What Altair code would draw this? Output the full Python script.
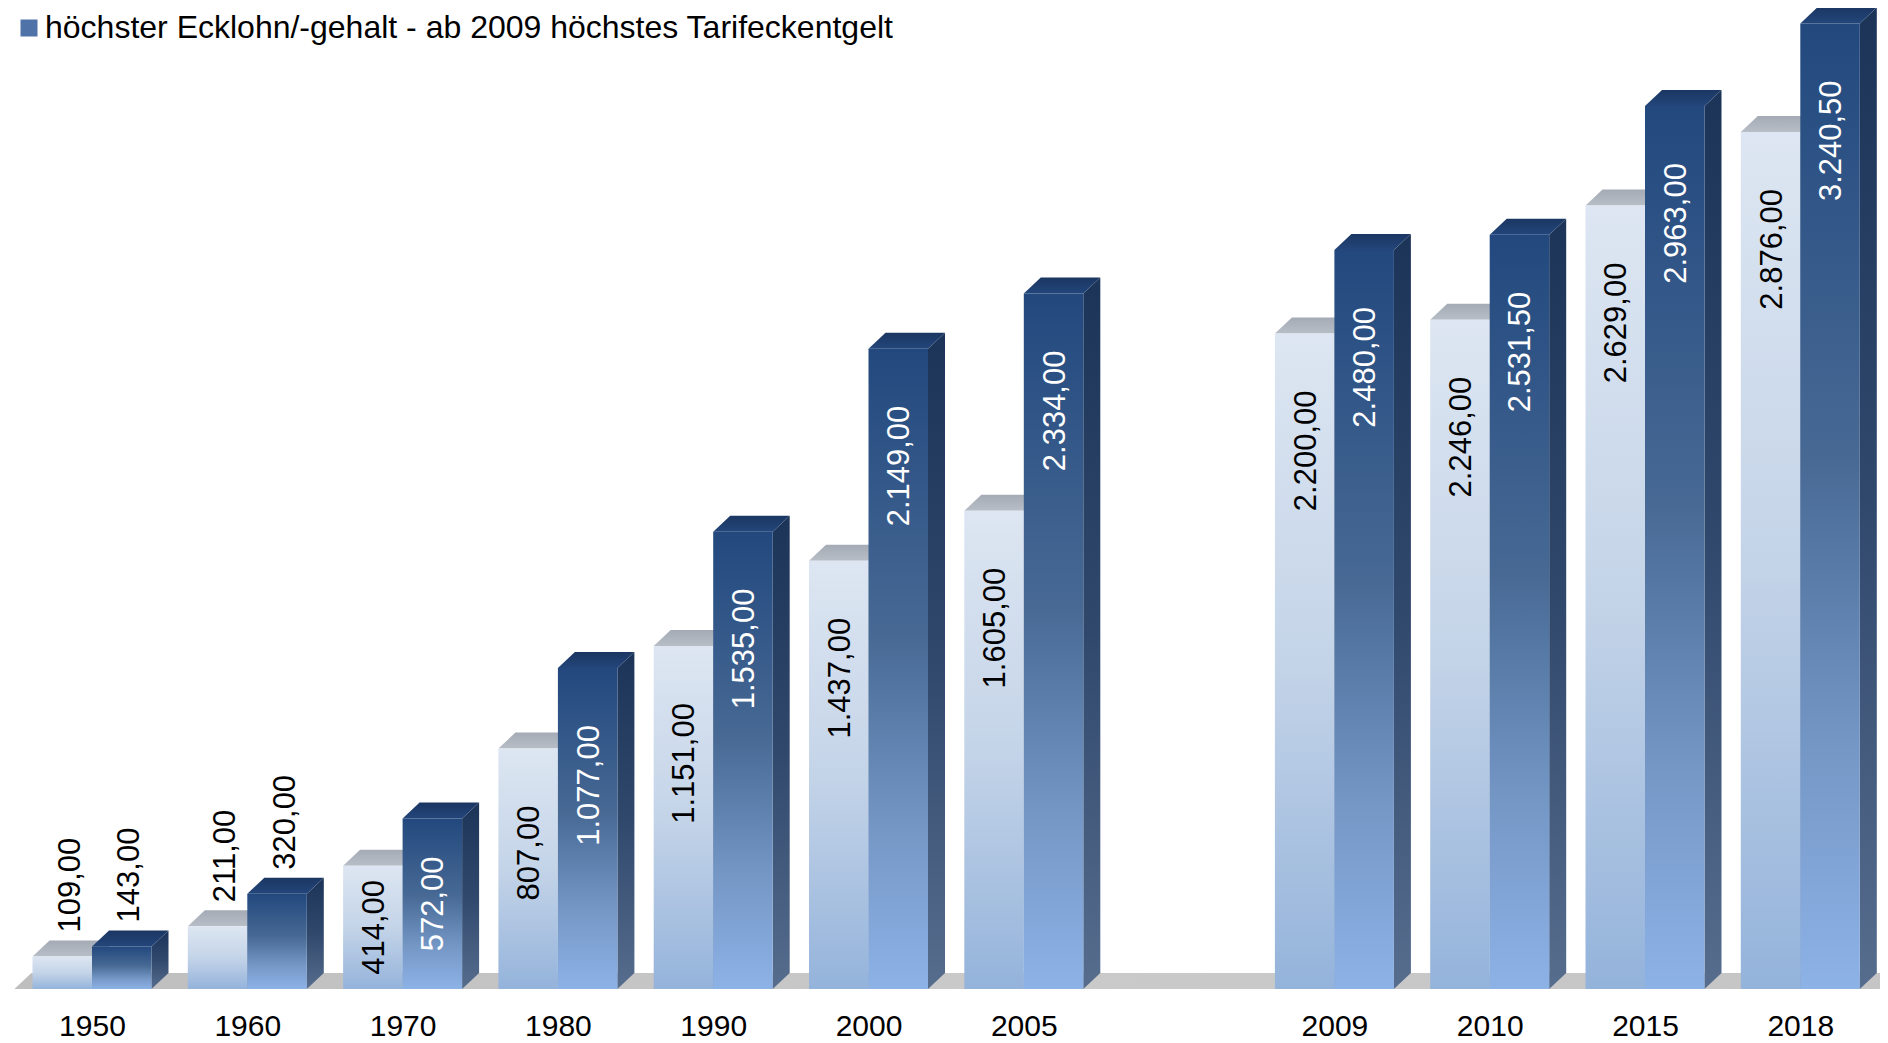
import altair as alt
import pandas as pd

# ---------------- data ----------------
years = ["1950", "1960", "1970", "1980", "1990", "2000", "2005", "",
         "2009", "2010", "2015", "2018"]
light_values = [109.00, 211.00, 414.00, 807.00, 1151.00, 1437.00, 1605.00, None,
                2200.00, 2246.00, 2629.00, 2876.00]
dark_values = [143.00, 320.00, 572.00, 1077.00, 1535.00, 2149.00, 2334.00, None,
               2480.00, 2531.50, 2963.00, 3240.50]
series_names = ["niedrigster Ecklohn/-gehalt",
                "höchster Ecklohn/-gehalt - ab 2009 höchstes Tarifeckentgelt"]

# ---------------- layout ----------------
W, H = 1888, 1043
X_MIN, X_MAX = -0.5924, 11.5647
Y_MIN, Y_MAX = -181.0, 3319.0
ux = (X_MAX - X_MIN) / W      # x units per pixel
uy = (Y_MAX - Y_MIN) / H      # y units per pixel
BAR_W = 59.5 * ux
DX = 17 * ux
DY = 16 * uy
FONT = "Liberation Sans"
LABEL_FS = 31

XS = alt.Scale(domain=[X_MIN, X_MAX], nice=False, zero=False)
YS = alt.Scale(domain=[Y_MIN, Y_MAX], nice=False, zero=False)
label_expr = "[" + ",".join("'%s'" % y for y in years) + "][datum.value]"
X_AXIS = alt.Axis(values=[i for i, y in enumerate(years) if y], labelExpr=label_expr,
                  title=None, domain=False, ticks=False, tickSize=0, grid=False,
                  labelFontSize=30, labelFont=FONT, labelColor="#000000",
                  labelPadding=0, labelBaseline="alphabetic", offset=-8,
                  labelFlush=False, labelOverlap=False)


def gx(f):
    return alt.X(f"{f}:Q", scale=XS, axis=X_AXIS)


def gy(f):
    return alt.Y(f"{f}:Q", scale=YS, axis=None)


def grad(stops, vertical=True):
    return alt.Gradient(
        gradient="linear",
        stops=[alt.GradientStop(offset=o, color=c) for o, c in stops],
        x1=0, y1=0, x2=0 if vertical else 1, y2=1 if vertical else 0)


def de_fmt(v):
    s = f"{v:,.2f}"
    return s.replace(",", "#").replace(".", ",").replace("#", ".")


# ---------------- derived tables ----------------
bars, side, top, labels = [], [], [], []
bid = 0
for i, (yr, lv, dv) in enumerate(zip(years, light_values, dark_values)):
    for s, v in ((0, lv), (1, dv)):
        if v is None:
            continue
        xl = i - BAR_W if s == 0 else i
        xr = xl + BAR_W
        bars.append(dict(id=bid, s=s, xl=xl, xr=xr, v=v, base=0.0))
        side.append(dict(id=bid, s=s, x=xr, y=0.0, y2=v))
        side.append(dict(id=bid, s=s, x=xr + DX, y=DY, y2=v + DY))
        top.append(dict(id=bid, s=s, y=v, x=xl, x2=xr))
        top.append(dict(id=bid, s=s, y=v + DY, x=xl + DX, x2=xr + DX))
        txt = de_fmt(v)
        nd = sum(ch.isdigit() for ch in txt)
        L = LABEL_FS * (0.556 * nd + 0.278 * (len(txt) - nd))
        h = v / uy
        if h < L + 20:
            labels.append(dict(kind="above", t=txt, x=(xl + xr) / 2 + DX / 2,
                               y=v + 24 * uy, c="#000000"))
        else:
            off = min(57, (h - L) / 2)
            labels.append(dict(kind="inside", t=txt, x=(xl + xr) / 2 + 2 * ux,
                               y=v - off * uy,
                               c="#000000" if s == 0 else "#ffffff"))
        bid += 1

bars = pd.DataFrame(bars)
side = pd.DataFrame(side)
top = pd.DataFrame(top)
labels = pd.DataFrame(labels)
floor = pd.DataFrame([dict(y=0.0, x=-0.5, x2=X_MAX + 1),
                      dict(y=DY, x=-0.5 + DX, x2=X_MAX + 1 + DX)])

# ---------------- colours ----------------
LIGHT_FRONT = grad([(0, "#DDE6F2"), (0.5, "#C4D4E8"), (1, "#94B3DB")])
DARK_FRONT = grad([(0, "#22487E"), (0.45, "#476994"), (0.75, "#7597C6"), (1, "#8DB2E6")])
LIGHT_TOP = grad([(0, "#A4ABB6"), (1, "#B8BEC6")])
DARK_TOP = grad([(0, "#1B3662"), (1, "#23467B")])
LIGHT_SIDE = grad([(0, "#A0ACBE"), (1, "#7089AD")])
DARK_SIDE = grad([(0, "#1C3457"), (0.5, "#30486C"), (1, "#566D8E")])
FLOOR = grad([(0, "#BEBEBE"), (0.5, "#CACACA"), (1, "#C4C4C4")], vertical=False)

# ---------------- layers ----------------
floor_layer = alt.Chart(floor).mark_area(orient="horizontal", fill=FLOOR, clip=True).encode(
    y=gy("y"), x=gx("x"), x2="x2")


def bar_layers(s, front, topc, sidec):
    b = bars[bars.s == s]
    sd = side[side.s == s]
    tp = top[top.s == s]
    l_side = alt.Chart(sd).mark_area(orient="vertical", fill=sidec).encode(
        x=gx("x"), y=gy("y"), y2="y2", detail="id:N")
    l_top = alt.Chart(tp).mark_area(orient="horizontal", fill=topc).encode(
        y=gy("y"), x=gx("x"), x2="x2", detail="id:N")
    l_front = alt.Chart(b).mark_rect(fill=front).encode(
        x=gx("xl"), x2="xr", y=gy("v"), y2="base")
    return [l_side, l_top, l_front]


layers = [floor_layer]
layers += bar_layers(0, LIGHT_FRONT, LIGHT_TOP, LIGHT_SIDE)
layers += bar_layers(1, DARK_FRONT, DARK_TOP, DARK_SIDE)

inside = alt.Chart(labels[labels.kind == "inside"]).mark_text(
    angle=270, align="right", baseline="middle", font=FONT, fontSize=LABEL_FS).encode(
    x=gx("x"), y=gy("y"), text="t:N", color=alt.Color("c:N", scale=None))
above = alt.Chart(labels[labels.kind == "above"]).mark_text(
    angle=270, align="left", baseline="middle", font=FONT, fontSize=LABEL_FS).encode(
    x=gx("x"), y=gy("y"), text="t:N", color=alt.Color("c:N", scale=None))
layers += [inside, above]

legend_df = pd.DataFrame([dict(name=series_names[1], x=0.0, y=0.0)])
legend_layer = alt.Chart(legend_df).mark_point(shape="square", filled=True, opacity=0).encode(
    x=gx("x"), y=gy("y"),
    color=alt.Color("name:N", scale=alt.Scale(domain=[series_names[1]], range=["#4F73A8"]),
                    legend=alt.Legend(orient="none", legendX=13, legendY=12, title=None,
                                      symbolType="square", symbolSize=289, symbolOpacity=1,
                                      symbolStrokeWidth=0, labelFontSize=32, labelFont=FONT,
                                      labelColor="#000000", labelOffset=0, labelLimit=2000,
                                      padding=0)))
layers.append(legend_layer)

chart = alt.layer(*layers).properties(
    width=W, height=H,
    padding={"left": -8, "top": -8, "right": -8, "bottom": 0},
    autosize=alt.AutoSizeParams(type="none"),
    background="white",
).configure_view(stroke=None)

chart.save("out.html", embed_options={"renderer": "svg", "actions": False})
